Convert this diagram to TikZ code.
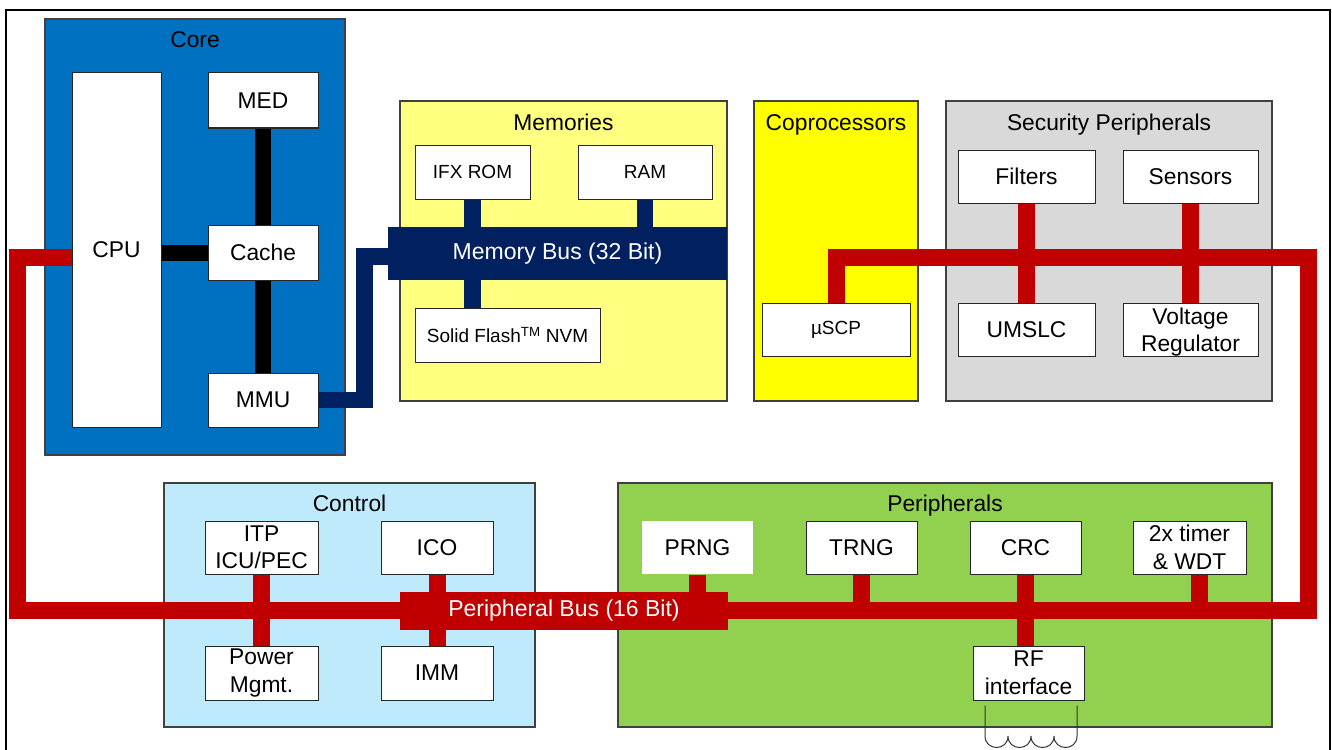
\documentclass[tikz,border=0pt]{standalone}
\usepackage{fontspec}
\setmainfont{Liberation Sans}
\pgfdeclarelayer{bg}
\pgfdeclarelayer{lines}
\pgfsetlayers{bg,lines,main}
\definecolor{coreblue}{RGB}{0,112,192}
\definecolor{memyellow}{RGB}{255,255,128}
\definecolor{coproyellow}{RGB}{255,255,0}
\definecolor{secgray}{RGB}{217,217,217}
\definecolor{ctrlblue}{RGB}{190,234,252}
\definecolor{perigreen}{RGB}{146,208,80}
\definecolor{busred}{RGB}{192,0,0}
\definecolor{busnavy}{RGB}{0,32,96}
\definecolor{edgegray}{RGB}{64,64,64}
\begin{document}
\begin{tikzpicture}[x=1pt,y=-1pt,
  container/.style={draw=edgegray, line width=1.2pt, inner sep=0pt},
  wbox/.style={draw=black!85, fill=white, line width=1pt, inner sep=0pt, align=center, font=\fontsize{22.8}{27.5}\selectfont},
  sbox/.style={wbox, font=\fontsize{19}{23}\selectfont},
  title/.style={font=\fontsize{22.8}{27.5}\selectfont, inner sep=0pt, anchor=base},
  busnode/.style={text=white, inner sep=0pt, font=\fontsize{23}{27.5}\selectfont},
  redbus/.style={draw=busred, line width=17pt, line join=miter},
  navybus/.style={draw=busnavy, line width=16.5pt, line join=miter},
  blackbus/.style={draw=black, line width=16pt},
  coil/.style={draw=black!80, line width=1pt}]
\useasboundingbox (0,0) rectangle (1332,749);

% ---------- containers ----------
\begin{pgfonlayer}{bg}
  \fill[white] (0,0) rectangle (1332,749);
  \draw[line width=2pt] (6,800) -- (6,10) -- (1330,10) -- (1330,800);
  \node[container, fill=coreblue, minimum width=300pt, minimum height=436pt] (core) at (195,237) {};
  \node[container, fill=memyellow, minimum width=327pt, minimum height=300pt] (memories) at (563.5,251) {};
  \node[container, fill=coproyellow, minimum width=164pt, minimum height=300pt] (copro) at (836,251) {};
  \node[container, fill=secgray, minimum width=326pt, minimum height=300pt] (secp) at (1109,251) {};
  \node[container, fill=ctrlblue, minimum width=371pt, minimum height=244pt] (control) at (349.5,605) {};
  \node[container, fill=perigreen, minimum width=654pt, minimum height=244pt] (periph) at (945,605) {};
\end{pgfonlayer}

% ---------- titles ----------
\node[title] (coret) at (195,48) {Core};
\node[title] (memt) at (563.5,130) {Memories};
\node[title] (coprot) at (836,130) {Coprocessors};
\node[title] (secpt) at (1109,130) {Security Peripherals};
\node[title] (controlt) at (349.5,511) {Control};
\node[title] (periht) at (945,511) {Peripherals};

% ---------- core ----------
\node[wbox, minimum width=89pt, minimum height=354pt] (cpu) at (116.5,250) {CPU};
\node[wbox, minimum width=110pt, minimum height=55pt] (med) at (263,100.5) {MED};
\node[wbox, minimum width=110pt, minimum height=55pt] (cache) at (263,252.5) {Cache};
\node[wbox, minimum width=110pt, minimum height=54pt] (mmu) at (263,400) {MMU};

% ---------- memories ----------
\node[sbox, minimum width=115pt, minimum height=54pt] (ifxrom) at (472.5,172) {IFX ROM};
\node[sbox, minimum width=134pt, minimum height=54pt] (ram) at (645,172) {RAM};
\node[busnode, fill=busnavy, minimum width=339pt, minimum height=53pt] (membus) at (557.5,253.5) {Memory Bus (32 Bit)};
\node[sbox, minimum width=185pt, minimum height=54pt] (flash) at (507.5,335) {Solid Flash\textsuperscript{TM} NVM};

% ---------- coprocessors ----------
\node[sbox, minimum width=148pt, minimum height=53pt] (uscp) at (836,329.5) {µSCP};

% ---------- security peripherals ----------
\node[wbox, minimum width=137pt, minimum height=53pt] (filters) at (1026.5,176.5) {Filters};
\node[wbox, minimum width=135pt, minimum height=53pt] (sensors) at (1190.5,176.5) {Sensors};
\node[wbox, minimum width=137pt, minimum height=53pt] (umslc) at (1026.5,329.5) {UMSLC};
\node[wbox, minimum width=135pt, minimum height=53pt, text depth=0pt] (volt) at (1190.5,329.5) {Voltage\\Regulator};

% ---------- control ----------
\node[wbox, minimum width=113pt, minimum height=53pt] (itp) at (261.5,547.5) {ITP\\ICU/PEC};
\node[wbox, minimum width=112pt, minimum height=53pt] (ico) at (437,547.5) {ICO};
\node[wbox, minimum width=113pt, minimum height=54pt] (power) at (261.5,673) {Power\\Mgmt.};
\node[wbox, minimum width=112pt, minimum height=54pt] (imm) at (437,673) {IMM};

% ---------- peripherals ----------
\node[wbox, draw=none, minimum width=111pt, minimum height=53pt] (prng) at (697.5,547.5) {PRNG};
\node[wbox, minimum width=111pt, minimum height=53pt] (trng) at (861.5,547.5) {TRNG};
\node[wbox, minimum width=111pt, minimum height=53pt] (crc) at (1025.5,547.5) {CRC};
\node[wbox, minimum width=113pt, minimum height=53pt] (timer) at (1189.5,547.5) {2x timer\\\& WDT};
\node[wbox, minimum width=111pt, minimum height=54pt] (rf) at (1028.5,673) {RF\\interface};

\node[busnode, fill=busred, minimum width=328pt, minimum height=38pt] (pbus) at (564,611) {Peripheral Bus (16 Bit)};

% ---------- buses ----------
\begin{pgfonlayer}{lines}
  \coordinate (tl) at (17.5,257);
  \coordinate (bl) at (17.5,610);
  \coordinate (br) at (1308,610);
  \coordinate (tr) at (1308,257);
  \draw[redbus] (cpu.west |- tl) -- (tl) -- (bl) -- (br) -- (tr) -- (uscp.north |- tr) -- (uscp.north);
  \draw[redbus] (filters.south) -- (umslc.north);
  \draw[redbus] (sensors.south) -- (volt.north);
  \draw[redbus] (itp.south) -- (power.north);
  \draw[redbus] (ico.south) -- (imm.north);
  \draw[redbus] (prng.south) -- (prng.south |- br);
  \draw[redbus] (trng.south) -- (trng.south |- br);
  \draw[redbus] (crc.south) -- (crc.south |- rf.north);
  \coordinate (tmr) at ([xshift=9.5pt]timer.south);
  \draw[redbus] (tmr) -- (tmr |- br);

  \draw[blackbus] (med.south) -- (mmu.north);
  \draw[blackbus] (cache.west) -- (cache.west -| cpu.east);

  \draw[navybus] (ifxrom.south) -- (ifxrom.south |- membus.north);
  \draw[navybus] (ram.south) -- (ram.south |- membus.north);
  \draw[navybus] (ifxrom.south |- membus.south) -- (ifxrom.south |- flash.north);
  \coordinate (mbk) at (364.5,256.5);
  \draw[navybus] (mmu.east) -| (mbk) -- (mbk -| membus.west);

  \coordinate (cl) at ([xshift=-43.5pt,yshift=-5pt]rf.south);
  \coordinate (cr) at ([xshift=48.5pt,yshift=-5pt]rf.south);
  \draw[coil] (cl) -- (985,736)
    .. controls (985,751.3) and (1008,751.3) .. (1008,736)
    .. controls (1008,751.3) and (1031,751.3) .. (1031,736)
    .. controls (1031,751.3) and (1054,751.3) .. (1054,736)
    .. controls (1054,751.3) and (1077,751.3) .. (1077,736) -- (cr);
\end{pgfonlayer}
\end{tikzpicture}
\end{document}
